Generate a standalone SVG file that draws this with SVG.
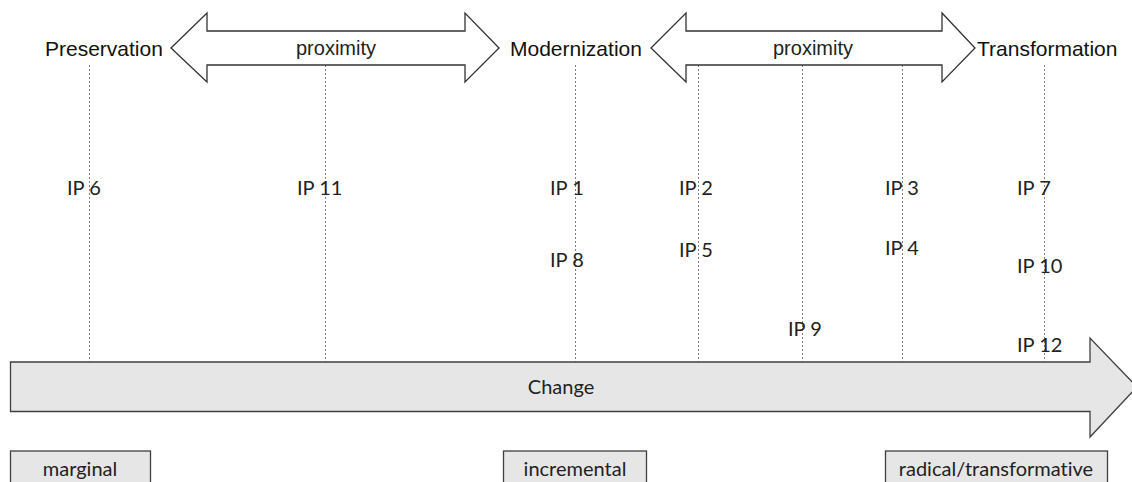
<svg xmlns="http://www.w3.org/2000/svg" width="1132" height="482" viewBox="0 0 1132 482">
  <style>
    .head { font-family: "Liberation Sans", Arial, sans-serif; font-size: 21px; fill: #111; }
    .prox { font-family: "Liberation Sans", Arial, sans-serif; font-size: 20px; fill: #222; text-anchor: middle; }
    .ip { font-family: Lato, "Open Sans", sans-serif; font-size: 20px; fill: #222; font-variant-ligatures: none; }
    .lbl { font-family: Lato, "Open Sans", sans-serif; font-size: 20px; fill: #222; text-anchor: middle; font-variant-ligatures: none; }
    .darrow { fill: #ffffff; stroke: #333333; stroke-width: 1.3; stroke-linejoin: miter; }
    .gray { fill: #e6e6e6; stroke: #404040; stroke-width: 1.3; }
    .dot { stroke: #808080; stroke-width: 1; stroke-dasharray: 2 2; fill: none; }
  </style>
  <rect width="1132" height="482" fill="#ffffff"/>

  <g id="connectors">
    <line class="dot" x1="89.5" y1="65" x2="89.5" y2="362"/>
    <line class="dot" x1="325.5" y1="65" x2="325.5" y2="362"/>
    <line class="dot" x1="575.5" y1="65" x2="575.5" y2="362"/>
    <line class="dot" x1="698.5" y1="65" x2="698.5" y2="362"/>
    <line class="dot" x1="802.5" y1="65" x2="802.5" y2="362"/>
    <line class="dot" x1="902.5" y1="65" x2="902.5" y2="362"/>
    <line class="dot" x1="1044.5" y1="65" x2="1044.5" y2="362"/>
  </g>

  <g id="proximity-left">
    <path class="darrow" d="M171,48 L207,13 L207,31 L465,31 L465,13 L499,48 L465,82 L465,65 L207,65 L207,82 Z"/>
    <text class="prox" x="336" y="55">proximity</text>
  </g>
  <g id="proximity-right">
    <path class="darrow" d="M651,48 L686,13 L686,31 L942,31 L942,13 L975,48 L942,82 L942,65 L686,65 L686,82 Z"/>
    <text class="prox" x="813" y="55">proximity</text>
  </g>

  <g id="preservation"><text class="head" x="45" y="56">Preservation</text></g>
  <g id="modernization"><text class="head" x="510" y="56">Modernization</text></g>
  <g id="transformation"><text class="head" x="977" y="56">Transformation</text></g>

  <g id="change">
    <path class="gray" d="M10.5,362 L1090,362 L1090,338 L1137,387 L1090,437 L1090,411.5 L10.5,411.5 Z"/>
    <text class="lbl" x="561" y="394">Change</text>
  </g>

  <g id="ip6"><text class="ip" x="67" y="195">IP 6</text></g>
  <g id="ip11"><text class="ip" x="297" y="195">IP 11</text></g>
  <g id="ip1"><text class="ip" x="550" y="195">IP 1</text></g>
  <g id="ip8"><text class="ip" x="550" y="267">IP 8</text></g>
  <g id="ip2"><text class="ip" x="679" y="195">IP 2</text></g>
  <g id="ip5"><text class="ip" x="679" y="257">IP 5</text></g>
  <g id="ip9"><text class="ip" x="788" y="336">IP 9</text></g>
  <g id="ip3"><text class="ip" x="885" y="195">IP 3</text></g>
  <g id="ip4"><text class="ip" x="885" y="255">IP 4</text></g>
  <g id="ip7"><text class="ip" x="1017" y="195">IP 7</text></g>
  <g id="ip10"><text class="ip" x="1017" y="273">IP 10</text></g>
  <g id="ip12"><text class="ip" x="1017" y="352">IP 12</text></g>

  <g id="marginal">
    <rect class="gray" x="10.5" y="451" width="140" height="40"/>
    <text class="lbl" x="80" y="476">marginal</text>
  </g>
  <g id="incremental">
    <rect class="gray" x="503.5" y="451" width="143" height="40"/>
    <text class="lbl" x="575" y="476">incremental</text>
  </g>
  <g id="radical">
    <rect class="gray" x="885.5" y="451" width="222" height="40"/>
    <text class="lbl" x="996" y="476">radical/transformative</text>
  </g>
</svg>
